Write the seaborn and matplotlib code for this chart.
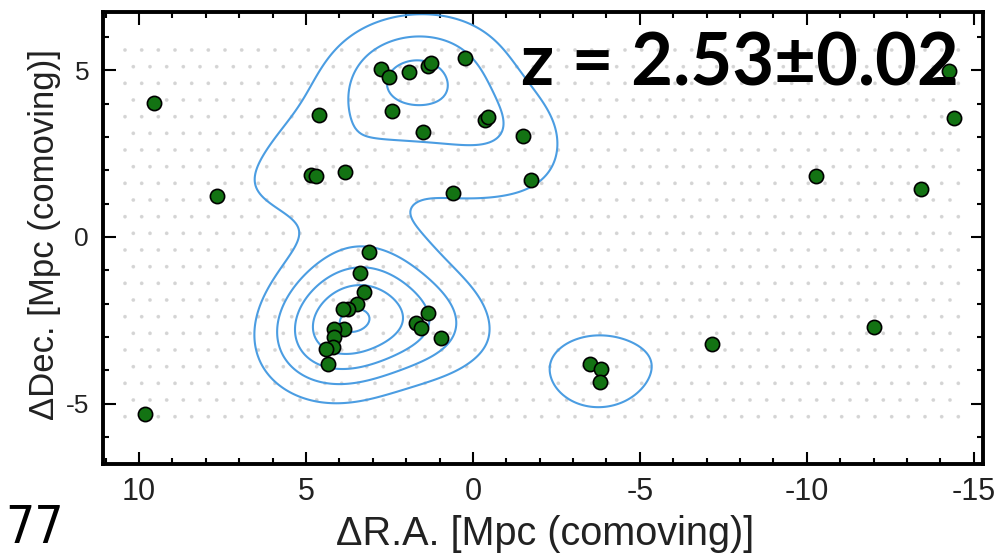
import numpy as np
import pandas as pd
import matplotlib
matplotlib.use("Agg")
import matplotlib.pyplot as plt
from matplotlib.patches import Rectangle
from matplotlib.ticker import MultipleLocator, FixedLocator
import seaborn as sns

# Offsets of the confirmed members from the field centre, comoving Mpc
ra_offset = [9.55, 4.60, 2.76, 2.51, 1.92, 1.34, 1.26, 0.25, 2.43, 1.50, -0.36, -0.44, -1.51,
             4.85, 4.70, 3.82, 7.66, 0.61, -1.74,
             3.10, 3.37, 3.25, 3.48, 3.75, 3.90, 3.87, 4.17, 4.15, 4.19, 4.39, 4.34,
             1.35, 1.70, 1.55, 0.95, 9.82,
             -3.52, -3.83, -3.80, -7.16, -10.27, -13.41, -12.01, -14.40, -14.25]
dec_offset = [4.03, 3.66, 5.04, 4.81, 4.96, 5.14, 5.21, 5.36, 3.78, 3.14, 3.51, 3.59, 3.03,
              1.86, 1.83, 1.94, 1.23, 1.31, 1.70,
              -0.46, -1.07, -1.65, -2.01, -2.16, -2.17, -2.77, -2.77, -2.99, -3.31, -3.36, -3.81,
              -2.27, -2.57, -2.74, -3.04, -5.32,
              -3.82, -3.96, -4.36, -3.21, 1.84, 1.43, -2.69, 3.56, 4.99]

x_tick_values = [10, 5, 0, -5, -10, -15]
y_tick_values = [5, 0, -5]
x_label = "\u0394R.A. [Mpc (comoving)]"
y_label = "\u0394Dec. [Mpc (comoving)]"
redshift_text = "z = 2.53\u00b10.02"
page_number = "77"

sns.set_theme(style="white")
plt.rcParams["font.family"] = ["Liberation Sans", "DejaVu Sans"]
plt.rcParams["hatch.linewidth"] = 0.2

fig = plt.figure(figsize=(9.98, 5.58), dpi=100)
ax = fig.add_axes([103 / 998, 1 - 464 / 558, 880 / 998, 452 / 558])
ax.set_xlim(11.08, -15.28)
ax.set_ylim(-6.81, 6.75)

members = pd.DataFrame({"ra": ra_offset, "dec": dec_offset})

# faint speckle of the underlying survey field
ax.add_patch(Rectangle((10.6, -5.8), -25.3, 11.8, fill=False, hatch=".",
                       edgecolor="#d4d4d4", linewidth=0, zorder=0))

# smoothed member surface density (elliptical gaussian kernel)
kernel_x, kernel_y = 1.45, 1.12
gx = np.linspace(-15.28, 11.08, 420)
gy = np.linspace(-6.81, 6.75, 230)
GX, GY = np.meshgrid(gx, gy)
density = np.zeros_like(GX)
for x0, y0 in zip(members["ra"], members["dec"]):
    density += np.exp(-0.5 * ((GX - x0) / kernel_x) ** 2 - 0.5 * ((GY - y0) / kernel_y) ** 2)
step = 1.92
ax.contour(GX, GY, density, levels=step * np.arange(1, 6), colors="#4b9de2",
           linewidths=1.5, zorder=2)

sns.scatterplot(data=members, x="ra", y="dec", ax=ax, s=105, color="#137313",
                edgecolor="black", linewidth=1.2, zorder=3, legend=False)

# frame and ticks
for side in ax.spines.values():
    side.set_visible(True)
    side.set_linewidth(2.8)
    side.set_color("black")
ax.xaxis.set_major_locator(FixedLocator(x_tick_values))
ax.yaxis.set_major_locator(FixedLocator(y_tick_values))
ax.xaxis.set_minor_locator(MultipleLocator(1))
ax.yaxis.set_minor_locator(MultipleLocator(1))
ax.tick_params(which="both", direction="in", top=True, right=True, bottom=True, left=True,
               color="black", width=1.5)
ax.tick_params(which="major", length=9)
ax.tick_params(which="minor", length=4)
ax.tick_params(axis="x", which="major", labelsize=22, pad=9, labelcolor="#222222")
ax.tick_params(axis="y", which="major", labelsize=19, pad=10, labelcolor="#222222")
ax.set_xticklabels([str(v) for v in x_tick_values])
ax.set_yticklabels([str(v) for v in y_tick_values])

ax.set_xlabel("")
ax.set_ylabel("")
fig.text(545 / 998, 1 - 545 / 558, x_label, ha="center", va="baseline",
         fontsize=28.5, color="#222222")
fig.text(54 / 998, 1 - 234 / 558, y_label, ha="center", va="baseline", rotation=90,
         fontsize=25, color="#222222", rotation_mode="anchor")

ax.text(0.973, 0.838, redshift_text, transform=ax.transAxes, ha="right", va="baseline",
        fontsize=52, fontweight="bold", family=["Lato", "DejaVu Sans"], color="black",
        zorder=5)

fig.text(5 / 998, 4 / 558, page_number, ha="left", va="bottom", fontsize=37,
         family="DejaVu Sans", fontstretch="condensed", color="black")

fig.savefig("out.png", dpi=100)
